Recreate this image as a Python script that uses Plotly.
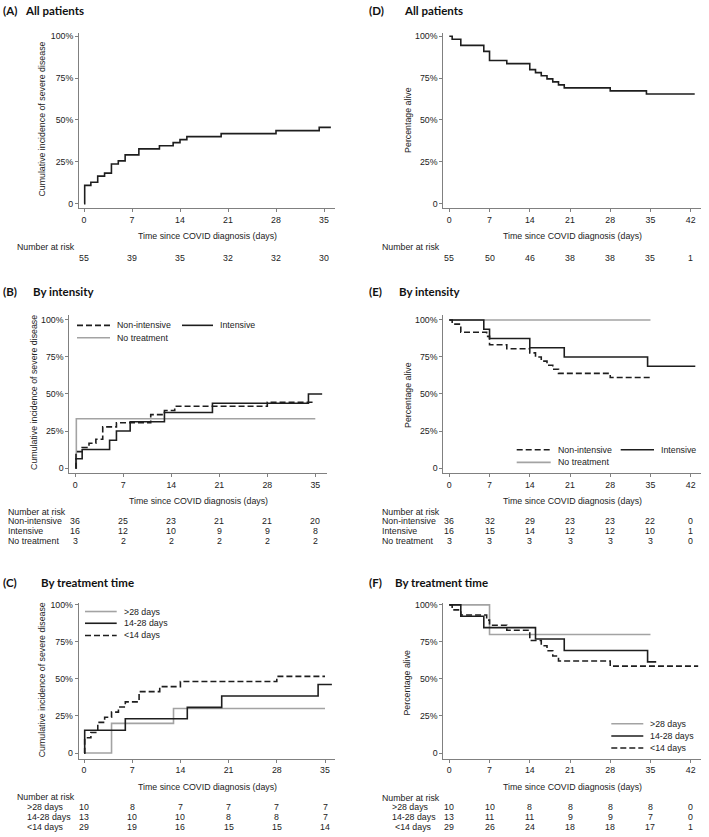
import plotly.graph_objects as go

W, H = 709, 837

# ---------------- DATA ----------------
# (A) cumulative incidence, all patients
A_time = [0, 0.1, 1, 2, 3, 4, 5, 6, 8, 11, 13, 14, 15, 20, 28, 34.3, 36]
A_cum = [0, 10.9, 12.7, 16.4, 18.2, 23.6, 25.5, 29.1, 32.7, 34.5, 36.4, 38.2, 40.0, 41.8, 43.6, 45.5, 45.5]
A_risk_days = [0, 7, 14, 21, 28, 35]
A_risk = [55, 39, 35, 32, 32, 30]

# (B) cumulative incidence by intensity
B_non_time = [0, 0.1, 1, 2, 3, 4, 6, 11, 13, 14.5, 28, 35]
B_non_cum = [0, 11.1, 13.9, 16.7, 19.4, 27.8, 30.6, 36.1, 38.9, 41.7, 44.4, 44.4]
B_int_time = [0, 0.1, 1, 5, 6, 8, 13, 20, 34, 36]
B_int_cum = [0, 6.25, 12.5, 18.75, 25.0, 31.25, 37.5, 43.75, 50.0, 50.0]
B_none_time = [0, 0.15, 35]
B_none_cum = [0, 33.3, 33.3]
B_risk_days = [0, 7, 14, 21, 28, 35]
B_risk_non = [36, 25, 23, 21, 21, 20]
B_risk_int = [16, 12, 10, 9, 9, 8]
B_risk_none = [3, 2, 2, 2, 2, 2]

# (C) cumulative incidence by treatment time
C_gt28_time = [0, 4, 13, 35]
C_gt28_cum = [0, 20.0, 30.0, 30.0]
C_mid_time = [0, 0.1, 6, 15, 20, 34, 36]
C_mid_cum = [0, 15.4, 23.1, 30.8, 38.5, 46.2, 46.2]
C_lt14_time = [0, 0.1, 1, 2, 3, 4, 5, 6, 8, 11, 14, 28, 35]
C_lt14_cum = [0, 10.3, 13.8, 20.7, 24.1, 27.6, 31.0, 34.5, 41.4, 44.8, 48.3, 51.7, 51.7]
C_risk_days = [0, 7, 14, 21, 28, 35]
C_risk_gt28 = [10, 8, 7, 7, 7, 7]
C_risk_mid = [13, 10, 10, 8, 8, 7]
C_risk_lt14 = [29, 19, 16, 15, 15, 14]

# (D) survival, all patients
D_time = [0, 0.5, 2, 6, 7, 10, 14, 15, 16, 17, 18, 19, 20, 28, 34.3, 42.7]
D_surv = [100, 98.2, 94.5, 90.9, 85.5, 83.6, 80.0, 78.2, 76.4, 74.5, 72.7, 70.9, 69.1, 67.3, 65.5, 65.5]
D_risk_days = [0, 7, 14, 21, 28, 35, 42]
D_risk = [55, 50, 46, 38, 38, 35, 1]

# (E) survival by intensity
E_non_time = [0, 0.5, 2, 6.5, 7, 10, 14, 15, 16, 17, 18, 19, 28, 35]
E_non_surv = [100, 97.2, 91.7, 88.9, 83.3, 80.6, 77.8, 75.0, 72.2, 69.4, 66.7, 63.9, 61.1, 61.1]
E_int_time = [0, 6, 7, 14, 20, 34.5, 42.8]
E_int_surv = [100, 93.75, 87.5, 81.25, 75.0, 68.75, 68.75]
E_none_time = [0, 35]
E_none_surv = [100, 100]
E_risk_days = [0, 7, 14, 21, 28, 35, 42]
E_risk_non = [36, 32, 29, 23, 23, 22, 0]
E_risk_int = [16, 15, 14, 12, 12, 10, 1]
E_risk_none = [3, 3, 3, 3, 3, 3, 0]

# (F) survival by treatment time
F_gt28_time = [0, 7, 35]
F_gt28_surv = [100, 80.0, 80.0]
F_mid_time = [0, 2, 6, 15, 20, 34.5, 36]
F_mid_surv = [100, 92.3, 84.6, 76.9, 69.2, 61.5, 61.5]
F_lt14_time = [0, 0.5, 2, 6.5, 7, 10, 14, 16, 17, 18, 19, 28, 43.3]
F_lt14_surv = [100, 96.6, 93.1, 89.7, 86.2, 82.8, 75.9, 72.4, 69.0, 65.5, 62.1, 58.6, 58.6]
F_risk_days = [0, 7, 14, 21, 28, 35, 42]
F_risk_gt28 = [10, 10, 8, 8, 8, 8, 0]
F_risk_mid = [13, 11, 11, 9, 9, 7, 0]
F_risk_lt14 = [29, 26, 24, 18, 18, 17, 1]

Y_TICKS = [0, 25, 50, 75, 100]
Y_TICKTEXT = ["0", "25%", "50%", "75%", "100%"]

# ---------------- STYLE ----------------
FONT = "Liberation Sans, Arial, sans-serif"
TITLE_FONT = "Lato, Open Sans, sans-serif"
FS = 8.8
TXT = "#222222"
BLACK = "#1e1e1e"
GRAY = "#a3a3a3"
AXC = "#808080"
LW = 1.6
DASH = "6px,3px"

def xp(px):
    return px / W

def yp(py):
    return 1 - py / H

fig = go.Figure()

panels = {
    "A": dict(xl=79, xr=335, x0=84, kx=48 / 7, yt=30, yb=206, y0=201.3, ky=1.68, xmax_tick=35),
    "D": dict(xl=443.3, xr=700.7, x0=449.3, kx=241.4 / 42, yt=30, yb=206, y0=201.3, ky=1.68, xmax_tick=42),
    "B": dict(xl=69.3, xr=326.7, x0=75.3, kx=240 / 35, yt=313.3, yb=472, y0=466.7, ky=1.486, xmax_tick=35),
    "E": dict(xl=443.3, xr=700.7, x0=449.3, kx=241.4 / 42, yt=313.3, yb=472, y0=466.7, ky=1.486, xmax_tick=42),
    "C": dict(xl=78.7, xr=335, x0=84, kx=241 / 35, yt=601.7, yb=758.3, y0=752.7, ky=1.487, xmax_tick=35),
    "F": dict(xl=443.3, xr=700.7, x0=449.3, kx=241.4 / 42, yt=601.7, yb=758.3, y0=752.7, ky=1.487, xmax_tick=42),
}
order = ["A", "D", "B", "E", "C", "F"]
axref = {}
for i, key in enumerate(order):
    p = panels[key]
    n = "" if i == 0 else str(i + 1)
    axref[key] = ("x" + n, "y" + n)
    xr = [(p["xl"] - p["x0"]) / p["kx"], (p["xr"] - p["x0"]) / p["kx"]]
    yr = [(p["y0"] - p["yb"]) / p["ky"], (p["y0"] - p["yt"]) / p["ky"]]
    common = dict(showgrid=False, zeroline=False, showline=True, linecolor=AXC, linewidth=1,
                  ticks="outside", ticklen=3, tickcolor=AXC, tickwidth=1,
                  tickfont=dict(family=FONT, size=FS, color=TXT), fixedrange=True)
    fig.layout["xaxis" + n] = dict(domain=[xp(p["xl"]), xp(p["xr"])], range=xr,
                                   anchor="y" + n, tickvals=list(range(0, p["xmax_tick"] + 1, 7)),
                                   **common)
    fig.layout["yaxis" + n] = dict(domain=[yp(p["yb"]), yp(p["yt"])], range=yr,
                                   anchor="x" + n, tickvals=Y_TICKS, ticktext=Y_TICKTEXT,
                                   **common)

def step(key, t, v, color, dash=None):
    xa, ya = axref[key]
    fig.add_trace(go.Scatter(x=t, y=v, mode="lines", line_shape="hv",
                             line=dict(color=color, width=LW, dash=dash),
                             xaxis=xa, yaxis=ya, showlegend=False, hoverinfo="skip"))

step("A", A_time, A_cum, BLACK)
step("D", D_time, D_surv, BLACK)
step("B", B_none_time, B_none_cum, GRAY)
step("B", B_non_time, B_non_cum, BLACK, DASH)
step("B", B_int_time, B_int_cum, BLACK)
step("E", E_none_time, E_none_surv, GRAY)
step("E", E_non_time, E_non_surv, BLACK, DASH)
step("E", E_int_time, E_int_surv, BLACK)
step("C", C_gt28_time, C_gt28_cum, GRAY)
step("C", C_mid_time, C_mid_cum, BLACK)
step("C", C_lt14_time, C_lt14_cum, BLACK, DASH)
step("F", F_gt28_time, F_gt28_surv, GRAY)
step("F", F_mid_time, F_mid_surv, BLACK)
step("F", F_lt14_time, F_lt14_surv, BLACK, DASH)

ann = []
shapes = []

def text(px, py, s, anchor="left", size=FS, family=FONT, angle=0, bold=False, color=TXT):
    ann.append(dict(x=xp(px), y=yp(py), xref="paper", yref="paper", text=("<b>%s</b>" % s) if bold else s,
                    showarrow=False, xanchor=anchor, yanchor="middle", textangle=angle,
                    font=dict(family=family, size=size, color=color)))

# panel titles
TS = 11.5
for lab, lx, tx, ty, title in [("(A)", 0, 23.3, 7.5, "All patients"),
                               ("(D)", 366, 402.3, 7.5, "All patients"),
                               ("(B)", 0, 30.7, 290, "By intensity"),
                               ("(E)", 366, 397.3, 290, "By intensity"),
                               ("(C)", 0, 39.3, 581.7, "By treatment time"),
                               ("(F)", 366, 393.3, 581.7, "By treatment time")]:
    text(lx + 1, ty, lab, size=TS, family=TITLE_FONT, bold=True, color="#111")
    text(tx, ty, title, size=TS, family=TITLE_FONT, bold=True, color="#111")

# axis titles
for cx, cy in [(207.3, 234), (572.3, 234), (198.3, 500), (572.3, 500), (207.3, 786.7), (572.3, 786.7)]:
    text(cx, cy, "Time since COVID diagnosis (days)", anchor="center")
text(42, 117, "Cumulative incidence of severe disease", anchor="center", angle=-90)
text(33.3, 391, "Cumulative incidence of severe disease", anchor="center", angle=-90)
text(41.7, 679, "Cumulative incidence of severe disease", anchor="center", angle=-90)
text(407.3, 117, "Percentage alive", anchor="center", angle=-90)
text(407.3, 393, "Percentage alive", anchor="center", angle=-90)
text(407.3, 681.7, "Percentage alive", anchor="center", angle=-90)

# number at risk tables
def risk_row(key, days, vals, py):
    xa, _ = axref[key]
    for d, v in zip(days, vals):
        ann.append(dict(x=d, y=yp(py), xref=xa, yref="paper", text=str(v), showarrow=False,
                        xanchor="center", yanchor="middle", font=dict(family=FONT, size=FS, color=TXT)))

text(15, 245, "Number at risk")
risk_row("A", A_risk_days, A_risk, 255.5)
text(380, 245, "Number at risk")
risk_row("D", D_risk_days, D_risk, 255.5)

text(6, 510.7, "Number at risk")
for lab, vals, py in [("Non-intensive", B_risk_non, 520.3), ("Intensive", B_risk_int, 530.3),
                      ("No treatment", B_risk_none, 540.3)]:
    text(6, py, lab)
    risk_row("B", B_risk_days, vals, py)

text(380, 510.7, "Number at risk")
for lab, vals, py in [("Non-intensive", E_risk_non, 520.3), ("Intensive", E_risk_int, 530.3),
                      ("No treatment", E_risk_none, 540.3)]:
    text(380, py, lab)
    risk_row("E", E_risk_days, vals, py)

text(15, 797.3, "Number at risk")
for lab, vals, py in [(">28 days", C_risk_gt28, 806.9), ("14-28 days", C_risk_mid, 816.9),
                      ("<14 days", C_risk_lt14, 826.9)]:
    text(24.5, py, lab)
    risk_row("C", C_risk_days, vals, py)

text(380, 797.7, "Number at risk")
for lab, vals, py, lx in [(">28 days", F_risk_gt28, 807.2, 390), ("14-28 days", F_risk_mid, 817.2, 390),
                          ("<14 days", F_risk_lt14, 827.2, 393)]:
    text(lx, py, lab)
    risk_row("F", F_risk_days, vals, py)

# legends (sample line + label)
def legend_item(x1, x2, py, label, color, dash=None):
    shapes.append(dict(type="line", xref="paper", yref="paper", x0=xp(x1), x1=xp(x2), y0=yp(py), y1=yp(py),
                       line=dict(color=color, width=LW, dash=dash)))
    text(x2 + 5, py, label)

legend_item(77, 110, 323.5, "Non-intensive", BLACK, DASH)
legend_item(182, 213, 323.5, "Intensive", BLACK)
legend_item(77, 110, 336, "No treatment", GRAY)

legend_item(516.7, 550.7, 448.3, "Non-intensive", BLACK, DASH)
legend_item(620.7, 654, 448.3, "Intensive", BLACK)
legend_item(516.7, 550.7, 461, "No treatment", GRAY)

legend_item(85, 116.7, 610.7, ">28 days", GRAY)
legend_item(85, 116.7, 622.5, "14-28 days", BLACK)
legend_item(85, 116.7, 634.7, "<14 days", BLACK, DASH)

legend_item(611.3, 643.3, 723.3, ">28 days", GRAY)
legend_item(611.3, 643.3, 735.7, "14-28 days", BLACK)
legend_item(611.3, 643.3, 747.7, "<14 days", BLACK, DASH)

fig.update_layout(width=W, height=H, margin=dict(l=0, r=0, t=0, b=0),
                  paper_bgcolor="white", plot_bgcolor="white", showlegend=False,
                  annotations=ann, shapes=shapes, font=dict(family=FONT, size=FS, color=TXT))

fig.write_html("out.html", config={"displayModeBar": False},
               post_script="document.body.style.margin='0';document.body.style.padding='0';"
                           "document.body.style.overflow='hidden';")
